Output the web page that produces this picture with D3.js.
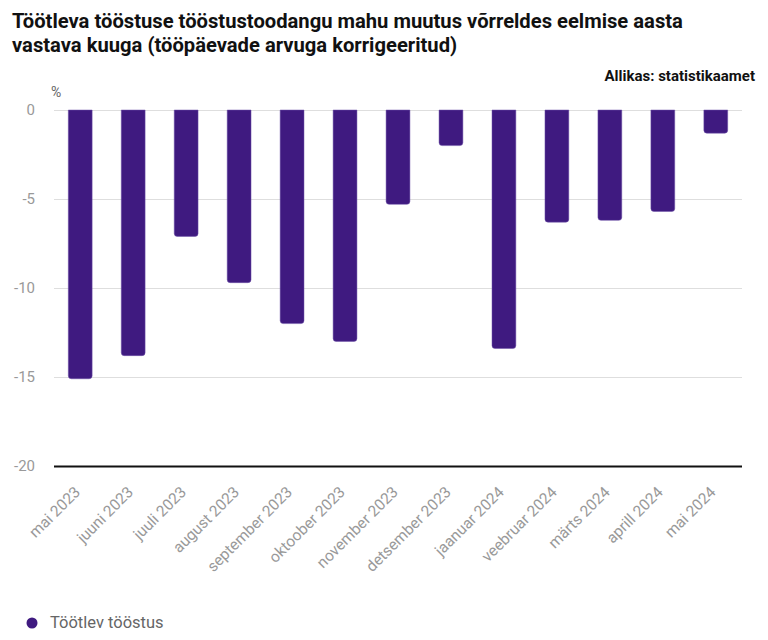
<!DOCTYPE html>
<html>
<head>
<meta charset="utf-8">
<script src="https://d3js.org/d3.v7.min.js"></script>
<style>
  body { margin: 0; background: #fff; font-family: Roboto, "Noto Sans", sans-serif; }
</style>
</head>
<body>
<script>
  const kuud = ["mai 2023", "juuni 2023", "juuli 2023", "august 2023", "september 2023", "oktoober 2023",
    "november 2023", "detsember 2023", "jaanuar 2024", "veebruar 2024", "märts 2024", "aprill 2024", "mai 2024"]
  const muutus = [-15.1, -13.8, -7.1, -9.7, -12.0, -13.0, -5.3, -2.0, -13.4, -6.3, -6.2, -5.7, -1.3]
  const yTicks = [0, -5, -10, -15, -20]

  const width = 768, height = 640
  const margin = {top: 110, right: 26, bottom: 174, left: 54}
  const color = "#3f1a80"

  const svg = d3.select("body").append("svg")
    .attr("width", width)
    .attr("height", height)

  const x = d3.scaleBand()
    .domain(kuud)
    .range([margin.left, width - margin.right])
    .paddingInner(0.55)
    .paddingOuter(0.27)

  const y = d3.scaleLinear()
    .domain([0, -20])
    .range([margin.top, height - margin.bottom])

  // pealkiri
  const title = svg.append("text")
    .attr("x", 12)
    .attr("y", 28)
    .style("font-size", "20.2px")
    .style("font-weight", "bold")
    .attr("fill", "#111")
  title.append("tspan").attr("x", 12).text("Töötleva tööstuse tööstustoodangu mahu muutus võrreldes eelmise aasta")
  title.append("tspan").attr("x", 12).attr("dy", "24").text("vastava kuuga (tööpäevade arvuga korrigeeritud)")

  svg.append("text")
    .attr("x", 755)
    .attr("y", 81)
    .attr("text-anchor", "end")
    .style("font-size", "15px")
    .style("font-weight", "bold")
    .attr("fill", "#111")
    .text("Allikas: statistikaamet")

  svg.append("text")
    .attr("x", 51)
    .attr("y", 97)
    .style("font-size", "14px")
    .attr("fill", "#666")
    .text("%")

  // y telg
  const yAxis = svg.append("g")
    .attr("transform", `translate(${margin.left},0)`)
    .call(d3.axisLeft(y).tickValues(yTicks).tickFormat(d => String(d))
      .tickSize(-(width - margin.left - margin.right)).tickPadding(19))
  yAxis.select(".domain").remove()
  yAxis.selectAll(".tick line").attr("stroke", d => d == -20 ? "#111" : "#dedede")
    .attr("stroke-width", d => d == -20 ? 2 : 1)
  yAxis.selectAll(".tick text")
    .style("font-size", "15px")
    .style("font-family", "Roboto, sans-serif")
    .attr("fill", "#999")

  // tulbad, ümardatud alumised nurgad
  const r = 3
  svg.append("g")
    .selectAll("path")
    .data(kuud)
    .join("path")
    .attr("fill", color)
    .attr("stroke", "#6f52a8")
    .attr("stroke-width", 0.5)
    .attr("d", (d, i) => {
      const x0 = x(d), x1 = x(d) + x.bandwidth()
      const y0 = y(0), y1 = y(muutus[i])
      return `M${x0},${y0}H${x1}V${y1 - r}Q${x1},${y1} ${x1 - r},${y1}H${x0 + r}Q${x0},${y1} ${x0},${y1 - r}Z`
    })

  // x telje sildid
  svg.append("g")
    .selectAll("text")
    .data(kuud)
    .join("text")
    .attr("text-anchor", "end")
    .attr("transform", d => `translate(${x(d) + x.bandwidth() / 2 + 1},${height - margin.bottom + 27}) rotate(-45)`)
    .style("font-size", "15.5px")
    .attr("fill", "#999")
    .text(d => d)

  // legend
  svg.append("circle")
    .attr("cx", 32)
    .attr("cy", 623)
    .attr("r", 5.5)
    .attr("fill", color)
  svg.append("text")
    .attr("x", 50)
    .attr("y", 628)
    .style("font-size", "16.5px")
    .attr("fill", "#666")
    .text("Töötlev tööstus")
</script>
</body>
</html>
